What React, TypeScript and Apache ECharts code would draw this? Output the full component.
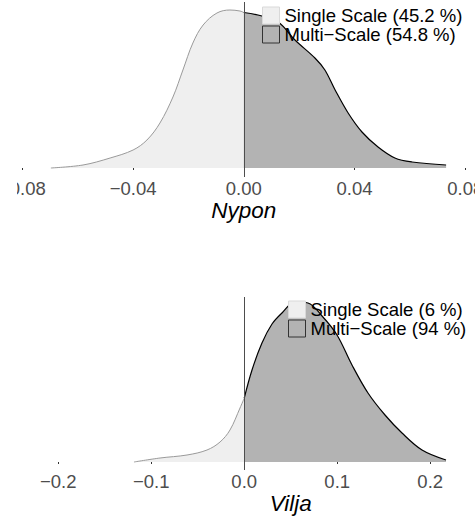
import React, { useEffect, useRef } from "react";
import * as echarts from "echarts";

// Nypon (top panel)
const nyponSingleX = [-0.0697, -0.0581, -0.0483, -0.04, -0.035, -0.0303, -0.0256, -0.022, -0.0184, -0.0147, -0.0097, -0.005, -0.0014, 0];
const nyponSingleY = [0, 0.3, 1.0, 1.8, 2.8, 4.5, 7.1, 9.8, 12.5, 14.3, 15.5, 15.8, 15.7, 15.55];
const nyponMultiX = [0, 0.0051, 0.0124, 0.0185, 0.0257, 0.0293, 0.033, 0.0377, 0.0427, 0.0485, 0.0546, 0.0608, 0.0731];
const nyponMultiY = [15.55, 15.3, 14.6, 12.8, 11.0, 9.8, 7.8, 5.5, 3.6, 2.1, 1.0, 0.6, 0.3];
const nyponTicks = [-0.08, -0.04, 0, 0.04, 0.08];
const nyponLegend = ["Single Scale (45.2 %)", "Multi\u2212Scale (54.8 %)"];

// Vilja (bottom panel)
const viljaSingleX = [-0.1185, -0.0905, -0.0615, -0.04, -0.026, -0.0153, -0.0045, 0];
const viljaSingleY = [0, 0.16, 0.28, 0.48, 0.8, 1.28, 2.16, 2.55];
const viljaMultiX = [0, 0.0084, 0.0191, 0.0299, 0.0406, 0.0546, 0.0686, 0.0837, 0.0998, 0.1159, 0.1331, 0.1514, 0.1697, 0.1912, 0.217];
const viljaMultiY = [2.55, 3.68, 4.76, 5.52, 5.96, 6.4, 6.36, 5.84, 5.08, 3.88, 2.76, 1.88, 1.16, 0.48, 0.08];
const viljaTicks = [-0.2, -0.1, 0, 0.1, 0.2];
const viljaLegend = ["Single Scale (6 %)", "Multi\u2212Scale (94 %)"];

const FONT = "Liberation Sans";
const LIGHT_FILL = "#efefef";
const LIGHT_LINE = "#9a9a9a";
const DARK_FILL = "#b3b3b3";

const zip = (xs: number[], ys: number[]) => xs.map((x, i) => [x, ys[i]]);

const fmt = (d: number, lastTick: number) => (v: number) => {
  if (v > lastTick + 1e-9) return "";
  if (Math.abs(v) < 1e-9) return (0).toFixed(d);
  return (v < 0 ? "\u2212" : "") + Math.abs(v).toFixed(d);
};

export default function App() {
  const ref = useRef<HTMLDivElement>(null);
  useEffect(() => {
    if (!ref.current) return;
    const chart = echarts.init(ref.current, undefined, { renderer: "svg" });
    const xAxisBase = (min: number, max: number, interval: number, dec: number, lastTick: number, name: string, gap: number, grid: number) => ({
      type: "value",
      gridIndex: grid,
      min,
      max,
      interval,
      axisLine: { show: false },
      splitLine: { show: false },
      axisTick: { show: true, length: 2, lineStyle: { color: "#333", width: 1 } },
      axisLabel: { fontFamily: FONT, fontSize: 18.5, color: "#4d4d4d", margin: 2, formatter: fmt(dec, lastTick), showMinLabel: true, showMaxLabel: true },
      name,
      nameLocation: "middle",
      nameGap: gap,
      nameTextStyle: { fontFamily: FONT, fontSize: 22.5, fontStyle: "italic", color: "#000" },
    });
    const yAxisBase = (min: number, max: number, grid: number) => ({
      type: "value",
      gridIndex: grid,
      min,
      max,
      show: false,
    });
    const areaSeries = (name: string, data: number[][], grid: number, light: boolean, vline: boolean) => ({
      type: "line",
      name,
      xAxisIndex: grid,
      yAxisIndex: grid,
      data,
      smooth: 0.35,
      showSymbol: false,
      symbol: "none",
      lineStyle: { color: light ? LIGHT_LINE : "#000", width: light ? 1 : 1.2 },
      areaStyle: { color: light ? LIGHT_FILL : DARK_FILL, opacity: 1 },
      itemStyle: { color: light ? LIGHT_FILL : DARK_FILL },
      silent: true,
      markLine: vline
        ? {
            silent: true,
            symbol: "none",
            label: { show: false },
            lineStyle: { color: "#4d4d4d", width: 1, type: "solid" },
            data: [{ xAxis: 0 }],
          }
        : undefined,
    });
    const legend = (names: string[], left: number, top: number) => ({
      orient: "vertical",
      left,
      top,
      padding: 0,
      itemGap: 0,
      itemWidth: 17,
      itemHeight: 17,
      selectedMode: false,
      textStyle: { fontFamily: FONT, fontSize: 18.5, color: "#000", lineHeight: 18 },
      data: [
        { name: names[0], icon: "rect", itemStyle: { color: LIGHT_FILL, borderColor: "#d9d9d9", borderWidth: 1 } },
        { name: names[1], icon: "rect", itemStyle: { color: DARK_FILL, borderColor: "#333", borderWidth: 1 } },
      ],
    });
    chart.setOption({
      animation: false,
      backgroundColor: "#fff",
      grid: [
        { left: 5.4, width: 442.8, top: 2, height: 175, outerBoundsMode: "none", containLabel: false },
        { left: 41.2, width: 465, top: 297, height: 173, outerBoundsMode: "none", containLabel: false },
      ],
      xAxis: [
        xAxisBase(nyponTicks[0], nyponTicks[nyponTicks.length - 1], 0.04, 2, nyponTicks[nyponTicks.length - 1], "Nypon", 20, 0),
        xAxisBase(viljaTicks[0], 0.3, 0.1, 1, viljaTicks[viljaTicks.length - 1], "Vilja", 17, 1),
      ],
      yAxis: [yAxisBase(-0.9, 16.6, 0), yAxisBase(-0.32, 6.6, 1)],
      legend: [legend(nyponLegend, 245, 6), legend(viljaLegend, 271, 300)],
      series: [
        areaSeries(nyponLegend[0], zip(nyponSingleX, nyponSingleY), 0, true, false),
        areaSeries(nyponLegend[1], zip(nyponMultiX, nyponMultiY), 0, false, true),
        areaSeries(viljaLegend[0], zip(viljaSingleX, viljaSingleY), 1, true, false),
        areaSeries(viljaLegend[1], zip(viljaMultiX, viljaMultiY), 1, false, true),
      ],
    });
    return () => chart.dispose();
  }, []);
  return (
    <div style={{ position: "absolute", left: 17, top: 0, width: 458, height: 519, overflow: "hidden", background: "#fff" }}>
      <div ref={ref} style={{ width: 520, height: 519 }} />
    </div>
  );
}
